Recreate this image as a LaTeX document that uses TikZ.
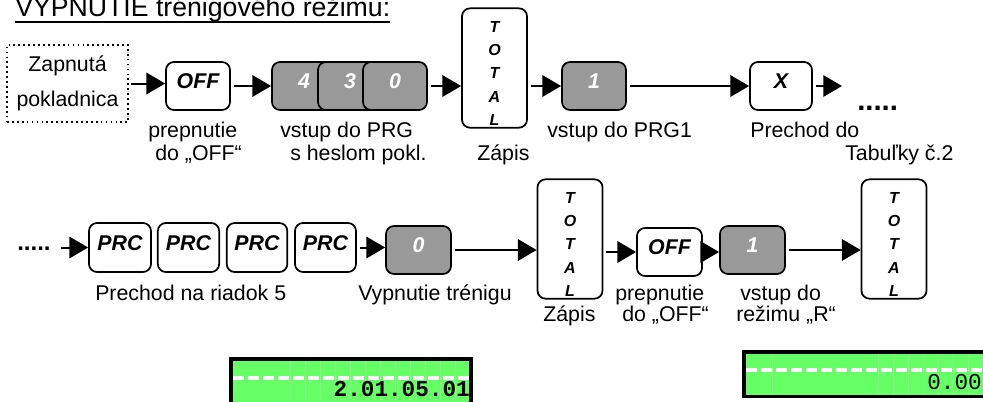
\documentclass[tikz,border=0pt]{standalone}
\usepackage{fontspec}
\setmainfont{Liberation Sans}
\newfontfamily\lcdfont{Liberation Mono}
\usetikzlibrary{arrows.meta}
\definecolor{keygray}{RGB}{153,153,153}
\definecolor{lcdgreen}{RGB}{102,255,102}
\definecolor{lcdline}{RGB}{135,255,135}
\begin{document}
\begin{tikzpicture}[x=0.75pt,y=-0.75pt,
  key/.style={draw, line width=1.3pt, rounded corners=6pt, fill=white,
    minimum width=48pt, minimum height=36pt, inner sep=0pt,
    text height=11.5pt, text depth=7.5pt,
    font=\fontsize{16}{19}\selectfont\bfseries\itshape},
  graykey/.style={key, fill=keygray, text=white},
  totalkey/.style={draw, line width=1.3pt, rounded corners=6pt, fill=white,
    minimum width=48.75pt, minimum height=89.5pt, inner sep=0pt, align=center,
    font=\fontsize{12}{17.5}\selectfont\bfseries\itshape},
  dotbox/.style={draw, line width=1.1pt, dash pattern=on 1.3pt off 2.4pt,
    minimum width=90.75pt, minimum height=57.75pt, inner sep=0pt, align=center,
    font=\fontsize{16}{26.25}\selectfont},
  lbl/.style={anchor=base west, inner sep=0pt, font=\fontsize{16}{19}\selectfont},
  flow/.style={line width=1.5pt, shorten <=2pt, -{Triangle[length=14pt,width=16pt]}},
  lcdtext/.style={anchor=base east, inner sep=0pt},
  lcddash/.style={white, line width=2.6pt, dash pattern=on 8.25pt off 3pt},
  lcdcell/.style={lcdline, line width=0.6pt}
]
\useasboundingbox (0,0) rectangle (983,401);

% title
\node[anchor=base west, inner sep=0pt, font=\fontsize{20}{24}\selectfont] (title) at (15,16) {VYPNUTIE trénigového režimu:};
\draw[line width=1.4pt] ([yshift=-4.6pt]title.base west) -- ([yshift=-4.6pt]title.base east);

% row 1
\node[dotbox] (zap) at (67.5,83.5) {Zapnutá\\pokladnica};
\node[key] (off1) at (198,86) {OFF};
\node[graykey] (k4) at (304,86) {4};
\node[graykey] (k3) at (350,86) {3};
\node[graykey] (k0) at (395,86) {0};
\node[totalkey] (tot1) at (494.5,68) {\rule{0pt}{16.1pt}T\\O\\T\\A\\L};
\node[graykey] (k1) at (594,86) {1};
\node[key, minimum width=46.5pt] (kx) at (781,86) {X};
\coordinate (xend) at (842,86);

\draw[flow] (zap.east) -- (zap.east -| off1.west);
\draw[flow] (off1.east) -- (off1.east -| k4.west);
\draw[flow] (k0.east) -- (k0.east -| tot1.west);
\draw[flow] (k1.west -| tot1.east) -- (k1.west);
\draw[flow] (k1.east) -- (k1.east -| kx.west);
\draw[flow] (kx.east) -- (xend);
\node[anchor=base west, inner sep=0pt, font=\fontsize{22}{22}\selectfont\bfseries] (dots1) at (857,110) {.....};

\node[lbl] (l1a) at (148,137) {prepnutie};
\node[lbl] (l1b) at (155,160) {do „OFF“};
\node[lbl] (l2a) at (280,137) {vstup do PRG};
\node[lbl] (l2b) at (290,160) {s heslom pokl.};
\node[lbl] (l3) at (477,160) {Zápis};
\node[lbl] (l4) at (547,137) {vstup do PRG1};
\node[lbl] (l5a) at (750,137) {Prechod do};
\node[lbl] (l5b) at (845,160) {Tabuľky č.2};

% row 2
\node[anchor=base west, inner sep=0pt, font=\fontsize{18}{18}\selectfont\bfseries] (dots2) at (17,250) {.....};
\coordinate (r2start) at (58,247.5);
\node[key, minimum width=46.5pt, minimum height=36.75pt] (prc1) at (120,247.5) {PRC};
\node[key, minimum width=46pt, minimum height=36.75pt] (prc2) at (188.5,247.5) {PRC};
\node[key, minimum width=45.5pt, minimum height=36.75pt] (prc3) at (257,247.5) {PRC};
\node[key, minimum width=45.75pt, minimum height=36.75pt] (prc4) at (325.5,247.5) {PRC};
\node[graykey, minimum width=48.75pt] (kz) at (418.5,250) {0};
\node[totalkey] (tot2) at (570,239) {\rule{0pt}{16.1pt}T\\O\\T\\A\\L};
\node[key, minimum width=48.75pt] (off2) at (669.5,252) {OFF};
\node[graykey, minimum width=48.75pt] (k1b) at (752.5,250) {1};
\node[totalkey] (tot3) at (894,239) {\rule{0pt}{16.1pt}T\\O\\T\\A\\L};

\draw[flow] (r2start) -- (r2start -| prc1.west);
\draw[flow] (prc4.east) -- (prc4.east -| kz.west);
\draw[flow] (kz.east) -- (kz.east -| tot2.west);
\draw[flow] (off2.west -| tot2.east) -- (off2.west);
\draw[flow, shorten <=0pt] (off2.east) -- (off2.east -| k1b.west);
\draw[flow] (k1b.east) -- (k1b.east -| tot3.west);

\node[lbl] (m1) at (95,300) {Prechod na riadok 5};
\node[lbl] (m2) at (358,300) {Vypnutie trénigu};
\node[lbl] (m3) at (543,321) {Zápis};
\node[lbl] (m4a) at (615,300) {prepnutie};
\node[lbl] (m4b) at (622,321) {do „OFF“};
\node[lbl] (m5a) at (740,300) {vstup do};
\node[lbl] (m5b) at (736,321) {režimu „R“};

% display 1
\fill[black] (229,357) rectangle (473,410);
\fill[lcdgreen] (233,361) rectangle (469,410);
\foreach \cx in {290,305,...,460} {\draw[lcdcell] (\cx,361) -- (\cx,402);}
\draw[lcddash] (233,378) -- (469,378);
\node[lcdtext, font=\lcdfont\fontsize{17}{17}\selectfont\bfseries] (lcd1) at (470,396) {2.01.05.01};

% display 2
\fill[black] (742,350) rectangle (995,398);
\fill[lcdgreen] (746,353.5) rectangle (995,395);
\foreach \cx in {772,878,893,...,968} {\draw[lcdcell] (\cx,353.5) -- (\cx,395);}
\draw[lcddash] (746,370) -- (995,370);
\node[lcdtext, font=\lcdfont\fontsize{17}{17}\selectfont] (lcd2) at (982,389) {0.00};
\end{tikzpicture}
\end{document}
